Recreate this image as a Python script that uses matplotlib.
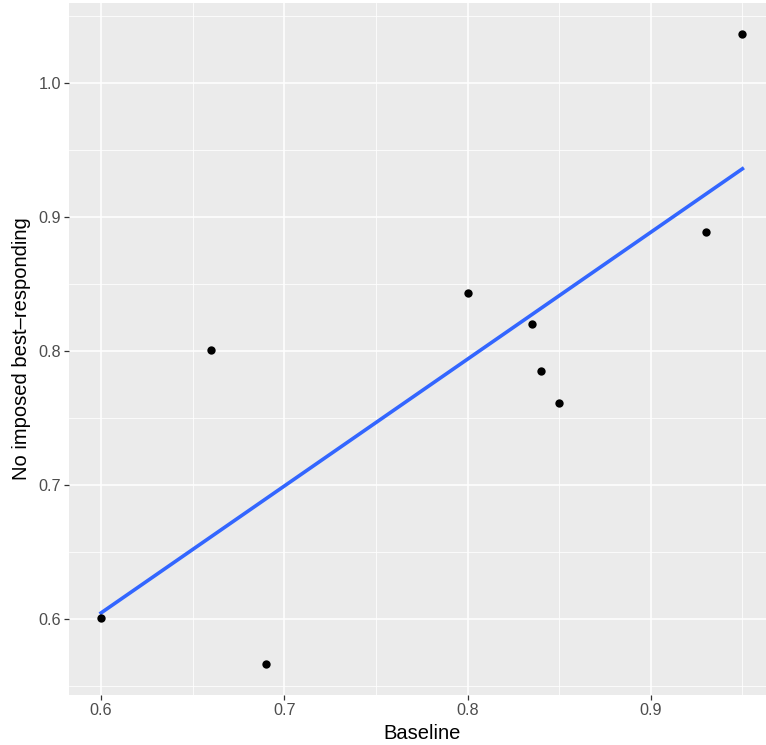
import numpy as np
import matplotlib
matplotlib.use("Agg")
import matplotlib.pyplot as plt

plt.rcParams["font.family"] = ["Liberation Sans", "DejaVu Sans"]

# Data
baseline = [0.60, 0.66, 0.69, 0.80, 0.835, 0.84, 0.85, 0.93, 0.95]
no_imposed = [0.601, 0.801, 0.567, 0.843, 0.820, 0.785, 0.761, 0.889, 1.036]

x_ticks = [0.6, 0.7, 0.8, 0.9]
y_ticks = [0.6, 0.7, 0.8, 0.9, 1.0]

x = np.array(baseline)
y = np.array(no_imposed)
slope, intercept = np.polyfit(x, y, 1)
xs = np.linspace(x.min(), x.max(), 80)

# ggplot-style 5% expansion of the data range
def expand(lo, hi, f=0.05):
    d = (hi - lo) * f
    return lo - d, hi + d

W, H = 766, 745
left, right, top, bottom = 69, 774.5, 3, 695  # panel in pixels (right edge runs off the image)

fig = plt.figure(figsize=(W / 100, H / 100), dpi=100)
ax = fig.add_axes([left / W, 1 - bottom / H, (right - left) / W, (bottom - top) / H])
ax.set_facecolor("#EBEBEB")
for s in ax.spines.values():
    s.set_visible(False)

ax.set_xlim(*expand(x.min(), x.max()))
ax.set_ylim(*expand(y.min(), y.max()))
ax.set_xticks(x_ticks)
ax.set_yticks(y_ticks)
ax.set_xticklabels([f"{v:.1f}" for v in x_ticks])
ax.set_yticklabels([f"{v:.1f}" for v in y_ticks])
ax.set_xticks([0.65, 0.75, 0.85, 0.95], minor=True)
ax.set_yticks([0.55, 0.65, 0.75, 0.85, 0.95, 1.05], minor=True)

ax.grid(which="major", color="white", linewidth=1.1)
ax.grid(which="minor", color="white", linewidth=0.55)
ax.set_axisbelow(True)
ax.tick_params(which="major", length=3.3, width=0.9, color="#333333",
               labelcolor="#4D4D4D", labelsize=11.7, pad=2.5)
ax.tick_params(which="minor", length=0)

ax.plot(xs, intercept + slope * xs, color="#3366FF", linewidth=2.6, zorder=2)
ax.scatter(x, y, s=36, color="black", zorder=3, linewidths=0)

ax.set_xlabel("Baseline", fontsize=14.5, labelpad=4)
ax.set_ylabel("No imposed best\u2013responding", fontsize=14.5, labelpad=5)

fig.savefig("out.png", dpi=100)
